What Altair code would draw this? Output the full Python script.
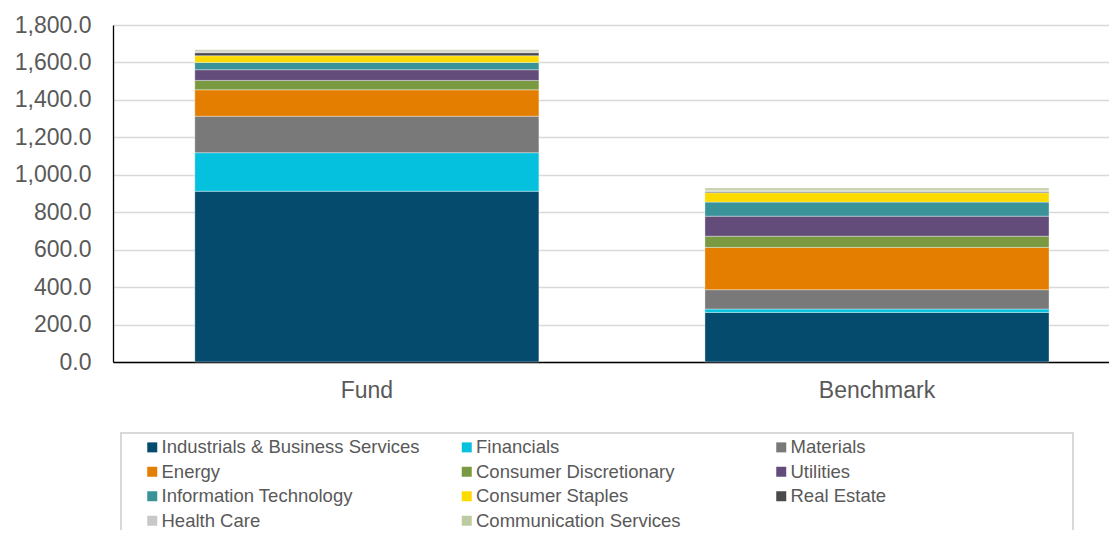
import altair as alt
import pandas as pd

groups = ["Fund", "Benchmark"]
categories = [
    "Industrials & Business Services",
    "Financials",
    "Materials",
    "Energy",
    "Consumer Discretionary",
    "Utilities",
    "Information Technology",
    "Consumer Staples",
    "Real Estate",
    "Health Care",
    "Communication Services",
]
fund_values = [912, 206, 195, 141, 50, 57, 39, 36, 16, 9, 7]
benchmark_values = [265, 18, 103, 226, 60, 107, 75, 50, 5, 9, 11]
colors = [
    "#054B6E", "#06C1DD", "#797979", "#E37E00", "#7A9A42", "#634C7A",
    "#3A9399", "#FEDB00", "#4A4A4A", "#C8C8C8", "#BCCBA0",
]
y_ticks = [0, 200, 400, 600, 800, 1000, 1200, 1400, 1600, 1800]

rows = []
for g, vals in zip(groups, [fund_values, benchmark_values]):
    for i, (c, v) in enumerate(zip(categories, vals)):
        rows.append({"group": g, "sector": c, "value": v, "ord": i})
df = pd.DataFrame(rows)

FONT = "Liberation Sans, Arial, sans-serif"
GREY = "#595959"

bars = alt.Chart(df).mark_bar(
    stroke="#ffffff", strokeWidth=0.6, strokeOpacity=0.6
).encode(
    x=alt.X(
        "group:N",
        sort=groups,
        scale=alt.Scale(paddingInner=0.3255, paddingOuter=0.139, align=0.577),
        axis=alt.Axis(
            title=None, labelAngle=0, labelFontSize=23, labelColor=GREY,
            labelFont=FONT, labelPadding=17, ticks=False,
            domainColor="#000000", domainWidth=1.3, grid=False,
        ),
    ),
    y=alt.Y(
        "value:Q",
        stack="zero",
        scale=alt.Scale(domain=[0, 1800], nice=False),
        axis=alt.Axis(
            title=None, values=y_ticks, format=",.1f", labelFontSize=23,
            labelColor=GREY, labelFont=FONT, labelPadding=22, ticks=False,
            domainColor="#000000", domainWidth=1.3,
            gridColor="#d9d9d9", gridWidth=1.5,
        ),
    ),
    color=alt.Color(
        "sector:N",
        scale=alt.Scale(domain=categories, range=colors),
        legend=alt.Legend(
            title=None, orient="none", legendX=30, legendY=413,
            direction="horizontal",
            columns=3, gridAlign="all", columnPadding=37.5, rowPadding=5.5,
            symbolType="square", symbolSize=100, symbolStrokeWidth=0,
            labelFontSize=18.5, labelColor=GREY, labelFont=FONT,
            labelLimit=400, labelOffset=0, padding=0,
        ),
    ),
    order=alt.Order("ord:Q", sort="ascending"),
)

frame = alt.Chart(pd.DataFrame({"k": [0]})).mark_rect(
    filled=False, stroke="#d9d9d9", strokeWidth=2
).encode(
    x=alt.value(8), x2=alt.value(960), y=alt.value(408), y2=alt.value(600)
)

chart = alt.layer(frame, bars).properties(
    width=996,
    height=337,
    autosize=alt.AutoSizeParams(type="none"),
    padding={"left": 105, "top": 17, "right": 0, "bottom": 168},
).configure_view(stroke=None)

chart.save("out.html", embed_options={"renderer": "svg", "actions": False})
